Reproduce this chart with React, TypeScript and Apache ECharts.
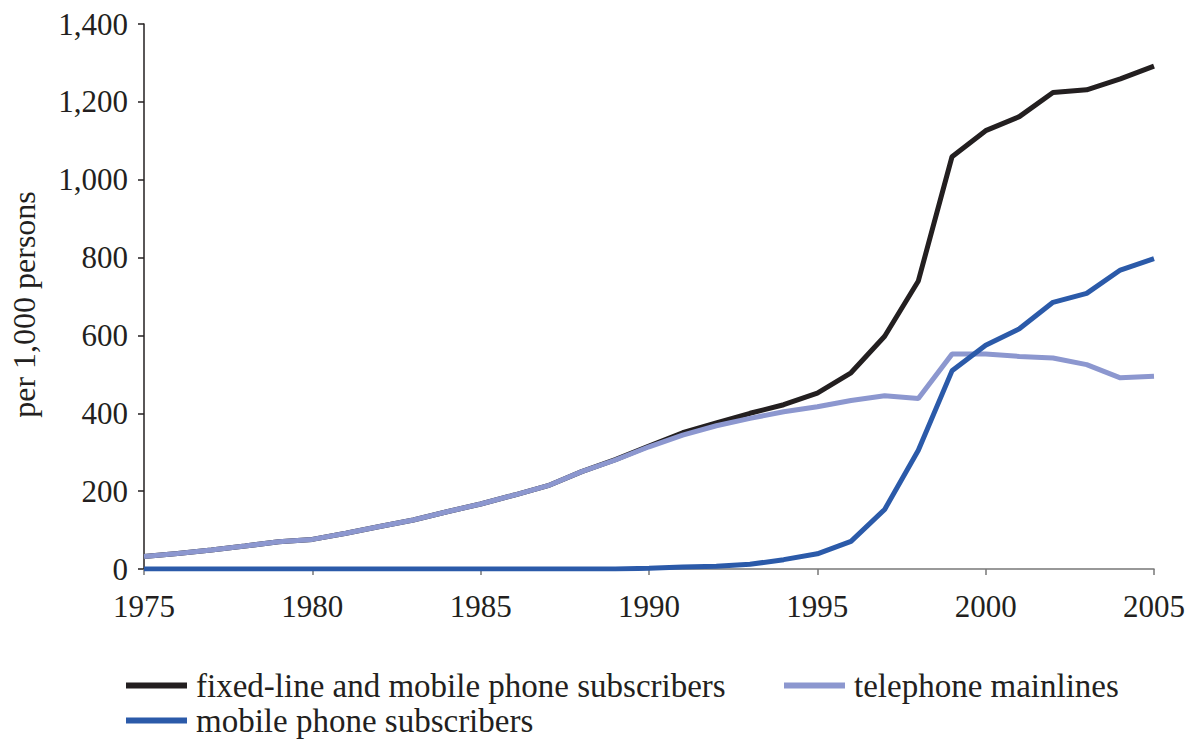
import React, { useEffect, useRef } from "react";
import * as echarts from "echarts";

const years = [1975,1976,1977,1978,1979,1980,1981,1982,1983,1984,1985,1986,1987,1988,1989,1990,1991,1992,1993,1994,1995,1996,1997,1998,1999,2000,2001,2002,2003,2004,2005];
const fixedAndMobile = [32,40,49,59,70,76,92,109,126,147,167,190,214,250,281,316,350,375,400,422,452,504,598,740,1059,1126,1162,1224,1231,1259,1292];
const mainlines = [32,40,49,59,70,76,92,109,126,147,167,190,214,250,280,314,344,368,387,404,417,433,445,438,552,552,546,542,525,491,495];
const mobile = [0,0,0,0,0,0,0,0,0,0,0,0,0,0,0,2,5,7,12,24,39,71,153,305,509,575,617,685,708,768,797];
const yTicks = [0,200,400,600,800,1000,1200,1400];
const xTicks = [1975,1980,1985,1990,1995,2000,2005];

const names = ["fixed-line and mobile phone subscribers", "telephone mainlines", "mobile phone subscribers"];
const colors = ["#231f20", "#8c97cf", "#2b5aa9"];
const FONT = "Liberation Serif";

export default function App() {
  const ref = useRef<HTMLDivElement>(null);
  useEffect(() => {
    if (!ref.current) return;
    const chart = echarts.init(ref.current, null, { renderer: "svg" });
    const toPairs = (arr: number[]) => years.map((y, i) => [y, arr[i]]);
    const legendBase = {
      icon: "rect",
      itemWidth: 61,
      itemHeight: 6,
      padding: 0,
      textStyle: { fontFamily: FONT, fontSize: 33, color: "#231f20", padding: [0, 0, 0, 4] },
      selectedMode: false,
    };
    chart.setOption({
      animation: false,
      backgroundColor: "#ffffff",
      grid: { left: 144, right: 29, top: 24, bottom: 171, containLabel: false },
      xAxis: {
        type: "value",
        min: 1975,
        max: 2005,
        interval: 5,
        axisLine: { lineStyle: { color: "#777777", width: 1.5 } },
        axisTick: { show: true, length: 6, lineStyle: { color: "#777777", width: 1.5 } },
        splitLine: { show: false },
        axisLabel: {
          fontFamily: FONT,
          fontSize: 31,
          color: "#231f20",
          margin: 22,
          formatter: (v: number) => (xTicks.includes(v) ? String(v) : ""),
        },
      },
      yAxis: {
        type: "value",
        min: 0,
        max: 1400,
        interval: 200,
        name: "per 1,000 persons",
        nameLocation: "middle",
        nameGap: 104,
        nameTextStyle: { fontFamily: FONT, fontSize: 32, color: "#231f20", padding: [0, 16, 0, 0] },
        axisLine: { show: true, lineStyle: { color: "#231f20", width: 1.5 } },
        axisTick: { show: true, length: 6, lineStyle: { color: "#231f20", width: 1.5 } },
        splitLine: { show: false },
        axisLabel: {
          fontFamily: FONT,
          fontSize: 31,
          color: "#231f20",
          margin: 16,
          formatter: (v: number) => (yTicks.includes(v) ? v.toLocaleString("en-US") : ""),
        },
      },
      legend: [
        { ...legendBase, data: [names[0]], left: 126, top: 669 },
        { ...legendBase, data: [names[1]], left: 784, top: 669 },
        { ...legendBase, data: [names[2]], left: 126, top: 704 },
      ],
      series: [
        { name: names[1], type: "line", data: toPairs(mainlines), showSymbol: false, lineStyle: { width: 5, color: colors[1] }, itemStyle: { color: colors[1] }, z: 2 },
        { name: names[0], type: "line", data: toPairs(fixedAndMobile), showSymbol: false, lineStyle: { width: 5, color: colors[0] }, itemStyle: { color: colors[0] }, z: 1 },
        { name: names[2], type: "line", data: toPairs(mobile), showSymbol: false, lineStyle: { width: 5, color: colors[2] }, itemStyle: { color: colors[2] }, z: 3 },
      ],
    });
    return () => chart.dispose();
  }, []);
  return <div ref={ref} style={{ width: 1188, height: 740, position: "absolute", left: 0, top: 0 }} />;
}
